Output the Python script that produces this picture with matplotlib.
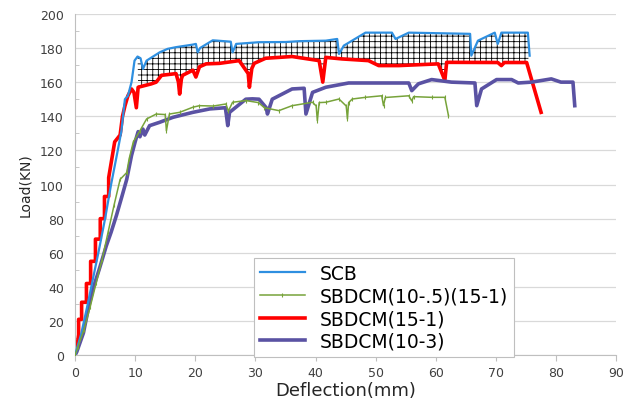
import numpy as np
import matplotlib
matplotlib.use("Agg")
import matplotlib.pyplot as plt
from matplotlib.ticker import MultipleLocator

# load-deflection data
scb_x = [0, 1, 2, 3, 4, 5, 6, 7, 7.7, 8.3, 8.8, 9.4, 9.9, 10.4, 10.9, 11.3, 11.9, 14.1, 15.4,
         16.8, 19.6, 20.1, 20.4, 20.8, 22.9, 23.7, 25.9, 26.2, 26.8, 30.6, 35, 37.3, 41.7,
         43.6, 43.9, 44.7, 48.3, 52.7, 53.3, 55.5, 65.7, 65.9, 67, 69.8, 70.3, 70.9, 75.3, 75.6]
scb_y = [0, 12, 28, 45, 62, 80, 100, 118, 131, 150, 152, 160, 172.6, 175, 174, 167.7, 172.6, 177.5, 179.5,
         180.5, 182, 182.4, 177.5, 180, 184.5, 184.3, 183.7, 177.5, 182.4, 183.4, 183.5, 184, 184.3,
         185.3, 176.5, 181.4, 189, 189, 185.3, 189, 188.3, 175.5, 184.3, 189, 182.4, 189, 189, 175.5]

g_x = [0, 0.5, 1.5, 2.5, 3.5, 4.5, 5.5, 6.5, 7.5, 8.6, 9.0, 9.7, 10.8, 11.9, 13.5, 15.0, 15.2, 15.7,
       17.4, 19.6, 20.7, 23, 25.1, 25.5, 26.2, 28.4, 30.5, 31.5, 33.9, 36.1, 39.5, 40.1, 40.3, 40.6,
       41.7, 43.9, 45.1, 45.3, 45.5, 46.1, 48.3, 51, 51.3, 51.6, 55.5, 56, 56.3, 59.3, 61.5, 62.1]
g_y = [0, 5, 15, 28, 42, 56, 72, 88, 103, 107, 115, 125, 131.5, 138.4, 141.3, 141, 131.5, 141.3,
       142.3, 145.3, 146.2, 146, 147.2, 143, 148.2, 149.2, 148, 145, 143.3, 146.2, 148.2, 146, 137.4, 148,
       148.2, 150.1, 146, 138.4, 148, 150.1, 151.1, 152, 146.2, 151, 152, 149, 151.5, 151.1, 151.1, 140.4]

r_x = [0, 0.3, 0.6, 0.6, 1.1, 1.1, 1.9, 1.9, 2.6, 2.6, 3.4, 3.4, 4.2, 4.2, 4.9, 4.9, 5.6, 5.6,
       6.6, 7.5, 7.9, 8.3, 8.8, 9.4, 9.8, 10.2, 10.5, 12.7, 13.5, 14.4, 16.8, 17.2, 17.4, 17.7, 17.9,
       19.6, 20.1, 20.7, 21.8, 24, 27.3, 28.8, 29.0, 29.4, 29.8, 31.7, 36.1, 40.6, 41.2, 41.7, 44.4,
       48.8, 50.5, 53.8, 60.4, 61.5, 61.8, 70.3, 70.9, 71.4, 75.1, 77.5]
r_y = [0, 4, 12, 21, 21, 31, 31, 42, 42, 55, 55, 68, 68, 80, 80, 93, 93, 104,
       125, 129, 140, 146, 152, 156, 154, 145, 157, 159, 160, 164, 165, 160, 153, 162, 164,
       167, 163, 169, 170.7, 171, 172.6, 165, 157, 168, 171, 174, 175, 172.6, 160, 174.5, 173.6,
       172.6, 169.7, 169.7, 170.7, 161, 171.6, 171.5, 169.7, 171.5, 171.5, 142.3]

p_x = [0, 0.3, 1.4, 2.2, 3.0, 4.0, 5.2, 6.0, 6.9, 7.8, 8.6, 9.4, 10.0, 10.5, 10.8, 11.3, 11.6, 12.4,
       14.1, 16.3, 19.6, 22.4, 25.0, 25.2, 25.4, 25.7, 28.4, 29.5, 30.6, 31.8, 32.0, 32.8, 36.1, 38.1,
       38.4, 39.5, 41.7, 45.5, 55.5, 56, 57.1, 59.3, 62.6, 66.5, 66.8, 67.6, 70.1, 72.6, 73.7, 75.9,
       79.2, 80.8, 82.8, 83.1]
p_y = [0, 2, 13, 27, 39, 50, 64, 72, 82, 93, 103, 117, 125, 131, 128, 132.5, 129, 134.5,
       136.5, 139.4, 142.3, 144.3, 145, 140, 134.5, 142.3, 150, 150.2, 150, 145, 141.3, 150, 156, 156.4,
       141.3, 154, 157, 159.5, 159.5, 155, 159, 161.5, 160, 159.5, 146.2, 156, 161.5, 161.5, 159.5, 160,
       161.9, 160, 160, 146.2]

labels = ["SCB", "SBDCM(10-.5)(15-1)", "SBDCM(15-1)", "SBDCM(10-3)"]

plt.rcParams["hatch.linewidth"] = 0.6
fig = plt.figure(figsize=(6.25, 4.02), dpi=100)
ax = fig.add_axes([0.12, 0.114, 0.866, 0.849])

# hatched band between SCB and SBDCM(15-1)
sx, sy = np.array(scb_x), np.array(scb_y)
rx, ry = np.array(r_x), np.array(r_y)
ms = (sx >= 10.4)
mr = (rx >= 10.4) & (rx <= 75.2)
ax.fill(np.r_[sx[ms], rx[mr][::-1]], np.r_[sy[ms], ry[mr][::-1]],
        facecolor="none", edgecolor="black", hatch="+++", linewidth=0, zorder=1)

ax.plot(scb_x, scb_y, color="#2E8FE0", lw=1.6, label=labels[0], zorder=3)
ax.plot(g_x, g_y, color="#77A33A", lw=1.1, marker="|", ms=3, mew=0.8, label=labels[1], zorder=3)
ax.plot(r_x, r_y, color="#FF0000", lw=2.6, label=labels[2], zorder=2)
ax.plot(p_x, p_y, color="#5A52A3", lw=2.6, label=labels[3], zorder=2)

ax.set_xlim(0, 90)
ax.set_ylim(0, 200)
ax.xaxis.set_major_locator(MultipleLocator(10))
ax.yaxis.set_major_locator(MultipleLocator(20))
ax.yaxis.set_minor_locator(MultipleLocator(10))
ax.grid(axis="y", color="#d9d9d9", lw=0.9)
ax.set_axisbelow(True)
for s in ["top", "right"]:
    ax.spines[s].set_visible(False)
for s in ["left", "bottom"]:
    ax.spines[s].set_color("#bfbfbf")
ax.tick_params(axis="x", colors="#bfbfbf", labelcolor="#404040", labelsize=9, length=4,
               direction="out", pad=4)
ax.tick_params(axis="y", which="major", length=0, labelcolor="#404040", labelsize=9, pad=8)
ax.tick_params(axis="y", which="minor", colors="#bfbfbf", length=3, direction="in")

ax.set_xlabel("Deflection(mm)", fontsize=13, color="#262626", labelpad=1)
ax.set_ylabel("Load(KN)", fontsize=10, color="#262626", labelpad=6)

leg = ax.legend(loc="lower left", bbox_to_anchor=(0.331, -0.004), fontsize=13.5,
                fancybox=False, framealpha=1, edgecolor="#bfbfbf", handlelength=2.4,
                borderpad=0.3, labelspacing=0.2, handletextpad=0.8, borderaxespad=0)
leg.get_frame().set_linewidth(0.8)
leg.set_zorder(5)

fig.savefig("out.png", dpi=100)
